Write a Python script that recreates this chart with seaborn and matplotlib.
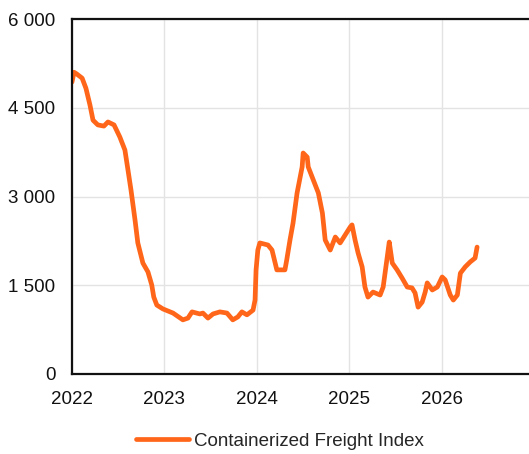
import matplotlib
matplotlib.use("Agg")
import matplotlib.pyplot as plt
import matplotlib.dates as mdates
from matplotlib.ticker import FuncFormatter
import pandas as pd
import seaborn as sns

dates = [
    "2022-01-01", "2022-01-09", "2022-01-20", "2022-02-10", "2022-02-25", "2022-03-13",
    "2022-03-25", "2022-04-13", "2022-05-07", "2022-05-23", "2022-06-16", "2022-07-09",
    "2022-07-29", "2022-08-10", "2022-08-22", "2022-09-07", "2022-09-18", "2022-10-08",
    "2022-10-28", "2022-11-12", "2022-11-20", "2022-12-02", "2022-12-26", "2023-02-04",
    "2023-03-15", "2023-04-04", "2023-04-20", "2023-05-21", "2023-06-02", "2023-06-22",
    "2023-07-12", "2023-08-08", "2023-09-05", "2023-09-28", "2023-10-18", "2023-11-03",
    "2023-11-23", "2023-12-17", "2023-12-25", "2023-12-29", "2024-01-05", "2024-01-13",
    "2024-02-14", "2024-03-01", "2024-03-20", "2024-04-21", "2024-04-28", "2024-05-11",
    "2024-05-23", "2024-06-08", "2024-06-28", "2024-07-02", "2024-07-18", "2024-07-22",
    "2024-08-11", "2024-08-31", "2024-09-16", "2024-09-27", "2024-10-17", "2024-11-06",
    "2024-11-25", "2024-12-15", "2025-01-04", "2025-01-11", "2025-01-23", "2025-02-04",
    "2025-02-20", "2025-03-03", "2025-03-15", "2025-04-04", "2025-05-02", "2025-05-14",
    "2025-05-30", "2025-06-07", "2025-06-19", "2025-07-08", "2025-07-28", "2025-08-17",
    "2025-09-05", "2025-09-17", "2025-09-29", "2025-10-15", "2025-10-27", "2025-11-04",
    "2025-11-24", "2025-12-14", "2026-01-02", "2026-01-14", "2026-02-03", "2026-02-15",
    "2026-03-03", "2026-03-15", "2026-04-03", "2026-04-23", "2026-05-12", "2026-05-20",
]
values = [
    4935, 5100, 5070, 5000, 4830, 4545,
    4290, 4210, 4190, 4260, 4210, 4005,
    3785, 3450, 3110, 2600, 2215, 1875,
    1725, 1505, 1300, 1165, 1100, 1030,
    915, 945, 1050, 1015, 1030, 945,
    1015, 1050, 1030, 915, 965, 1050,
    1000, 1080, 1250, 1760, 2095, 2215,
    2180, 2095, 1760, 1760, 1925, 2265,
    2550, 3060, 3500, 3735, 3665, 3500,
    3280, 3060, 2720, 2265, 2095, 2315,
    2215, 2350, 2485, 2520, 2265, 2045,
    1810, 1470, 1300, 1385, 1335, 1470,
    1975, 2230, 1875, 1760, 1620, 1470,
    1455, 1370, 1130, 1215, 1385, 1540,
    1420, 1470, 1640, 1590, 1335, 1250,
    1335, 1705, 1810, 1895, 1960, 2145,
]
series_name = "Containerized Freight Index"
year_ticks = ["2022", "2023", "2024", "2025", "2026"]
value_ticks = [0, 1500, 3000, 4500, 6000]

df = pd.DataFrame({"date": pd.to_datetime(dates), "value": values, "series": series_name})

sns.set_theme(style="white")
plt.rcParams["font.family"] = ["Liberation Sans", "DejaVu Sans"]

fig = plt.figure(figsize=(5.29, 4.54), dpi=100)
ax = fig.add_axes([72 / 529, 80 / 454, 457 / 529, 355 / 454])

sns.lineplot(data=df, x="date", y="value", hue="series", palette=["#ff6619"],
             linewidth=3.4, ax=ax, legend=True)

ax.set_xlim(pd.Timestamp("2022-01-01"), pd.Timestamp("2026-12-11"))
ax.set_ylim(0, 6000)
ax.set_xticks([pd.Timestamp(f"{y}-01-01") for y in year_ticks])
ax.xaxis.set_major_formatter(mdates.DateFormatter("%Y"))
ax.set_yticks(value_ticks)
ax.yaxis.set_major_formatter(FuncFormatter(lambda v, _: f"{int(v):,}".replace(",", " ")))

ax.grid(True, color="#e3e3e3", linewidth=1.0)
ax.set_axisbelow(True)
for side in ["left", "bottom", "top"]:
    ax.spines[side].set_visible(True)
    ax.spines[side].set_color("#111111")
    ax.spines[side].set_linewidth(1.6)
ax.spines["right"].set_visible(False)

ax.tick_params(axis="both", length=0, labelsize=13.5, colors="#111111")
ax.tick_params(axis="x", pad=12)
ax.tick_params(axis="y", pad=12)
ax.set_xlabel("")
ax.set_ylabel("")

handles, labels = ax.get_legend_handles_labels()
ax.legend(handles, labels, loc="center", bbox_to_anchor=(280 / 529, 13 / 454),
          bbox_transform=fig.transFigure, frameon=False, fontsize=13.5,
          handlelength=2.8, handletextpad=0.25)

fig.savefig("out.png", dpi=100)
